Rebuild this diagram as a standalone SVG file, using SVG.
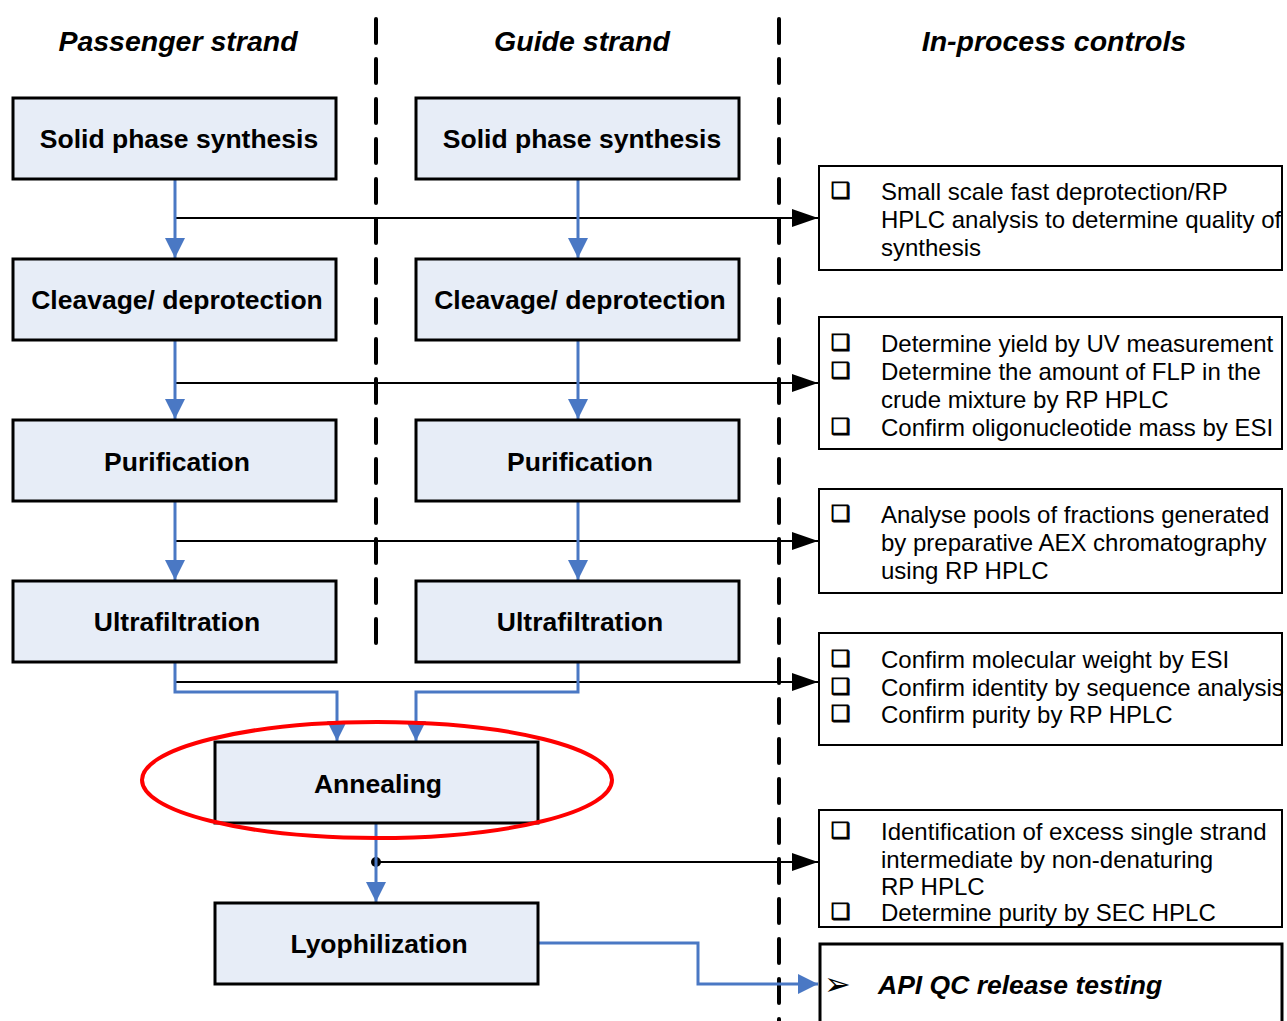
<svg xmlns="http://www.w3.org/2000/svg" width="1287" height="1021" viewBox="0 0 1287 1021">
<defs>
<style>
.node rect{fill:#E7EDF7;stroke:#000;stroke-width:3}
.node text{font-family:"Liberation Sans",Arial,sans-serif;font-weight:bold;font-size:26.5px;text-anchor:middle;fill:#000}
.hdr{font-family:"Liberation Sans",Arial,sans-serif;font-weight:bold;font-style:italic;font-size:28.5px;text-anchor:middle;fill:#000}
.ctl rect{fill:#fff;stroke:#000;stroke-width:2}
.ctl text{font-family:"Liberation Sans",Arial,sans-serif;font-size:24px;fill:#000}
.ctl .bx{font-family:"DejaVu Sans",sans-serif;font-size:22px;stroke:#000;stroke-width:0.9}
.div{stroke:#000;stroke-width:4;stroke-dasharray:24 16;stroke-linecap:round;fill:none}
.blue{stroke:#4A78C4;stroke-width:3;fill:none}
.blk{stroke:#000;stroke-width:2;fill:none}
</style>
<marker id="ab" markerWidth="20" markerHeight="20" viewBox="0 0 20 20" refX="20" refY="10" orient="auto" markerUnits="userSpaceOnUse">
<path d="M0,0 L20,10 L0,20 Z" fill="#4A78C4"/>
</marker>
<marker id="ak" markerWidth="26" markerHeight="18" viewBox="0 0 26 18" refX="26" refY="9" orient="auto" markerUnits="userSpaceOnUse">
<path d="M0,0 L26,9 L0,18 Z" fill="#000"/>
</marker>
</defs>
<rect width="1287" height="1021" fill="#fff"/>

<g id="dividers">
<line class="div" x1="376" y1="19" x2="376" y2="653"/>
<line class="div" x1="779" y1="19" x2="779" y2="1030"/>
</g>

<g id="headers">
<text class="hdr" x="178" y="51">Passenger strand</text>
<text class="hdr" x="582" y="51">Guide strand</text>
<text class="hdr" x="1054" y="51">In-process controls</text>
</g>

<g id="connectors">
<line class="blk" x1="175" y1="218" x2="818" y2="218" marker-end="url(#ak)"/>
<line class="blk" x1="175" y1="383" x2="818" y2="383" marker-end="url(#ak)"/>
<line class="blk" x1="175" y1="541" x2="818" y2="541" marker-end="url(#ak)"/>
<line class="blk" x1="175" y1="682" x2="818" y2="682" marker-end="url(#ak)"/>
<line class="blk" x1="376" y1="862" x2="818" y2="862" marker-end="url(#ak)"/>
<circle cx="376" cy="862" r="5" fill="#000"/>
<line class="blue" x1="175" y1="180" x2="175" y2="258" marker-end="url(#ab)"/>
<line class="blue" x1="578" y1="180" x2="578" y2="258" marker-end="url(#ab)"/>
<line class="blue" x1="175" y1="341" x2="175" y2="419" marker-end="url(#ab)"/>
<line class="blue" x1="578" y1="341" x2="578" y2="419" marker-end="url(#ab)"/>
<line class="blue" x1="175" y1="502" x2="175" y2="580" marker-end="url(#ab)"/>
<line class="blue" x1="578" y1="502" x2="578" y2="580" marker-end="url(#ab)"/>
<polyline class="blue" points="175,663 175,692 337,692 337,741" marker-end="url(#ab)"/>
<polyline class="blue" points="578,663 578,692 416,692 416,741" marker-end="url(#ab)"/>
<line class="blue" x1="376" y1="824" x2="376" y2="902" marker-end="url(#ab)"/>
<polyline class="blue" points="539,943 698,943 698,984 818,984" marker-end="url(#ab)"/>
</g>

<g id="passenger-solid" class="node"><rect x="13" y="98" width="323" height="81"/><text x="179" y="148">Solid phase synthesis</text></g>
<g id="passenger-cleavage" class="node"><rect x="13" y="259" width="323" height="81"/><text x="177" y="309">Cleavage/ deprotection</text></g>
<g id="passenger-purification" class="node"><rect x="13" y="420" width="323" height="81"/><text x="177" y="471">Purification</text></g>
<g id="passenger-ultrafiltration" class="node"><rect x="13" y="581" width="323" height="81"/><text x="177" y="631">Ultrafiltration</text></g>

<g id="guide-solid" class="node"><rect x="416" y="98" width="323" height="81"/><text x="582" y="148">Solid phase synthesis</text></g>
<g id="guide-cleavage" class="node"><rect x="416" y="259" width="323" height="81"/><text x="580" y="309">Cleavage/ deprotection</text></g>
<g id="guide-purification" class="node"><rect x="416" y="420" width="323" height="81"/><text x="580" y="471">Purification</text></g>
<g id="guide-ultrafiltration" class="node"><rect x="416" y="581" width="323" height="81"/><text x="580" y="631">Ultrafiltration</text></g>

<g id="annealing" class="node"><rect x="215" y="742" width="323" height="81"/><text x="378" y="793">Annealing</text></g>
<g id="lyophilization" class="node"><rect x="215" y="903" width="323" height="81"/><text x="379" y="953">Lyophilization</text></g>

<g id="highlight"><ellipse cx="377" cy="780" rx="235" ry="58" fill="none" stroke="#F00" stroke-width="4"/></g>

<g id="ctl-synthesis" class="ctl">
<rect x="819" y="166" width="463" height="104"/>
<text class="bx" x="831" y="198">❑</text>
<text x="881" y="200">Small scale fast deprotection/RP</text>
<text x="881" y="228">HPLC analysis to determine quality of</text>
<text x="881" y="256">synthesis</text>
</g>
<g id="ctl-cleavage" class="ctl">
<rect x="819" y="317" width="463" height="132"/>
<text class="bx" x="831" y="350">❑</text><text x="881" y="352">Determine yield by UV measurement</text>
<text class="bx" x="831" y="378">❑</text><text x="881" y="380">Determine the amount of FLP in the</text>
<text x="881" y="408">crude mixture by RP HPLC</text>
<text class="bx" x="831" y="434">❑</text><text x="881" y="436">Confirm oligonucleotide mass by ESI</text>
</g>
<g id="ctl-purification" class="ctl">
<rect x="819" y="489" width="463" height="104"/>
<text class="bx" x="831" y="521">❑</text><text x="881" y="523">Analyse pools of fractions generated</text>
<text x="881" y="551">by preparative AEX chromatography</text>
<text x="881" y="579">using RP HPLC</text>
</g>
<g id="ctl-ultrafiltration" class="ctl">
<rect x="819" y="633" width="463" height="112"/>
<text class="bx" x="831" y="666">❑</text><text x="881" y="668">Confirm molecular weight by ESI</text>
<text class="bx" x="831" y="694">❑</text><text x="881" y="696">Confirm identity by sequence analysis</text>
<text class="bx" x="831" y="721">❑</text><text x="881" y="723">Confirm purity by RP HPLC</text>
</g>
<g id="ctl-annealing" class="ctl">
<rect x="819" y="810" width="463" height="117"/>
<text class="bx" x="831" y="838">❑</text><text x="881" y="840">Identification of excess single strand</text>
<text x="881" y="868">intermediate by non-denaturing</text>
<text x="881" y="895">RP HPLC</text>
<text class="bx" x="831" y="919">❑</text><text x="881" y="921">Determine purity by SEC HPLC</text>
</g>
<g id="ctl-release" class="ctl">
<rect x="820" y="944" width="462" height="90" style="stroke-width:3"/>
<text x="824" y="995" style="font-family:'DejaVu Sans',sans-serif;font-size:32px">➢</text>
<text x="878" y="994" style="font-weight:bold;font-style:italic;font-size:26.5px">API QC release testing</text>
</g>
</svg>
